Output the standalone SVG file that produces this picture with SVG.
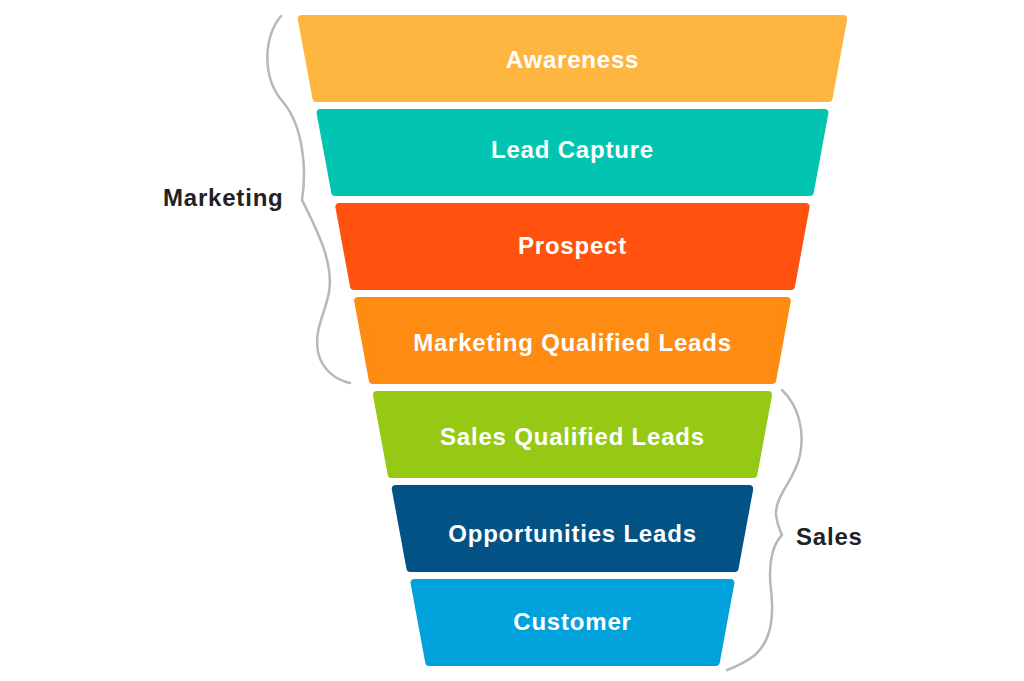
<svg xmlns="http://www.w3.org/2000/svg" width="1024" height="681" viewBox="0 0 1024 681">
<style>
.band{stroke-width:8;stroke-linejoin:round}
.t{font-family:"Liberation Sans",Arial,sans-serif;font-weight:bold;font-size:24px;letter-spacing:0.8px;fill:#fff;text-anchor:middle}
.lbl{font-family:"Liberation Sans",Arial,sans-serif;font-weight:bold;font-size:24px;letter-spacing:0.8px;fill:#222}
.brace{fill:none;stroke:#b8b8b8;stroke-width:2.5;stroke-linecap:round;stroke-linejoin:round}
</style>
<rect width="1024" height="681" fill="#fff"/>
<g id="awareness">
<polygon class="band" fill="#FEB640" stroke="#FEB640" points="301.8,19 843.2,19 828.6,98 316.4,98"/>
<text class="t" x="572.5" y="68">Awareness</text>
</g>
<g id="lead-capture">
<polygon class="band" fill="#01C5B1" stroke="#01C5B1" points="320.6,113 824.4,113 809.8,192 335.2,192"/>
<text class="t" x="572.5" y="158">Lead Capture</text>
</g>
<g id="prospect">
<polygon class="band" fill="#FE520E" stroke="#FE520E" points="339.4,207 805.6,207 791,286 354,286"/>
<text class="t" x="572.5" y="254">Prospect</text>
</g>
<g id="mql">
<polygon class="band" fill="#FE8B12" stroke="#FE8B12" points="358.2,301 786.8,301 772.2,380 372.8,380"/>
<text class="t" x="572.5" y="351">Marketing Qualified Leads</text>
</g>
<g id="sql">
<polygon class="band" fill="#96C914" stroke="#96C914" points="377,395 768,395 753.4,474 391.6,474"/>
<text class="t" x="572.5" y="445">Sales Qualified Leads</text>
</g>
<g id="opportunities">
<polygon class="band" fill="#025286" stroke="#025286" points="395.8,489 749.2,489 734.6,568 410.4,568"/>
<text class="t" x="572.5" y="542">Opportunities Leads</text>
</g>
<g id="customer">
<polygon class="band" fill="#01A1DB" stroke="#01A1DB" points="414.6,583 730.4,583 715.8,662 429.2,662"/>
<text class="t" x="572.5" y="630">Customer</text>
</g>
<g id="connectors">
<path class="brace" d="M281,16 C263,38 262,78 283,102 C303,126 307,168 302,200 C316,228 334,262 329,292 C325,315 314,328 318,352 C322,370 336,380 350,383"/>
<path class="brace" d="M782,390 C798,405 805,430 800,455 C795,480 775,495 776,515 C777,525 780,530 782,535 C772,545 768,565 771,590 C774,615 772,640 755,655 C745,663 735,667 727,670"/>
</g>
<g id="marketing-label">
<text class="lbl" x="163" y="206">Marketing</text>
</g>
<g id="sales-label">
<text class="lbl" x="796" y="545">Sales</text>
</g>
</svg>
